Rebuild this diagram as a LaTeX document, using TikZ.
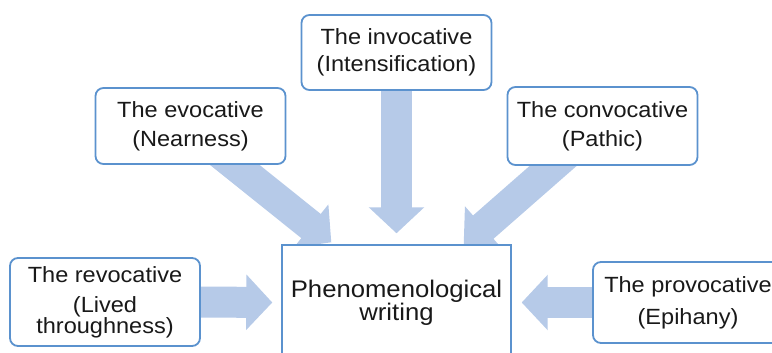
\documentclass[tikz,border=0pt]{standalone}
\usepackage{fontspec}
\setmainfont{Liberation Sans}[FakeStretch=1.07]
\usepackage{tikz}
\usetikzlibrary{calc, arrows.meta, backgrounds}
\definecolor{boxblue}{RGB}{91, 146, 206}
\definecolor{arrowblue}{RGB}{182, 202, 232}
\definecolor{textgrey}{RGB}{25, 25, 25}

\begin{document}
\begin{tikzpicture}[
    x=0.5pt, y=-0.5pt,
    box/.style={rectangle, rounded corners=4pt, draw=boxblue, line width=0.9pt, fill=white, minimum width=95pt, inner sep=0pt, align=center, text=textgrey, font=\fontsize{11}{14}\selectfont},
    centre/.style={rectangle, draw=boxblue, line width=0.7pt, fill=white, minimum width=114.5pt, minimum height=57.5pt, inner sep=0pt, align=center, text=textgrey, font=\fontsize{12}{14}\selectfont},
    bigarrow/.style={draw=arrowblue, line width=15.5pt, -{Triangle[length=13pt, width=27pt]}},
]

% Frame
\useasboundingbox (0,0) rectangle (772,353);
\clip (0,0) rectangle (772,353);

% Central box
\node[centre] (phen) at (396.5, 302.5) {Phenomenological\\[-2.5pt]writing};

% Surrounding boxes
\node[box, minimum height=37.5pt] (invo) at (396.5, 52.5) {The invocative\\[-0.5pt](Intensification)};
\node[box, minimum height=38pt] (evo) at (190.5, 126) {The evocative\\[0.5pt](Nearness)};
\node[box, minimum height=39pt] (convo) at (602.5, 126) {The convocative\\[0.5pt](Pathic)};
\node[box, minimum height=44pt] (revo) at (105, 302) {The revocative\\[1pt](Lived\\[-3.5pt]throughness)};
\node[box, minimum height=40.5pt] (provo) at (688, 302.5) {The provocative\\[2pt](Epihany)};

% Arrows
\begin{scope}[on background layer]
\draw[bigarrow] (invo.south) -- ($(phen.north)+(0,-11)$);
\draw[bigarrow] ($(evo.south)+(28,-13)$) -- ($(phen.north west)+(50,-2)$);
\draw[bigarrow] ($(convo.south)+(-34.5,-13)$) -- ($(phen.north east)+(-48,0)$);
\draw[bigarrow] (revo.east) -- ($(phen.west)+(-9,0)$);
\draw[bigarrow] (provo.west) -- ($(phen.east)+(10,0)$);
\end{scope}

\end{tikzpicture}
\end{document}
